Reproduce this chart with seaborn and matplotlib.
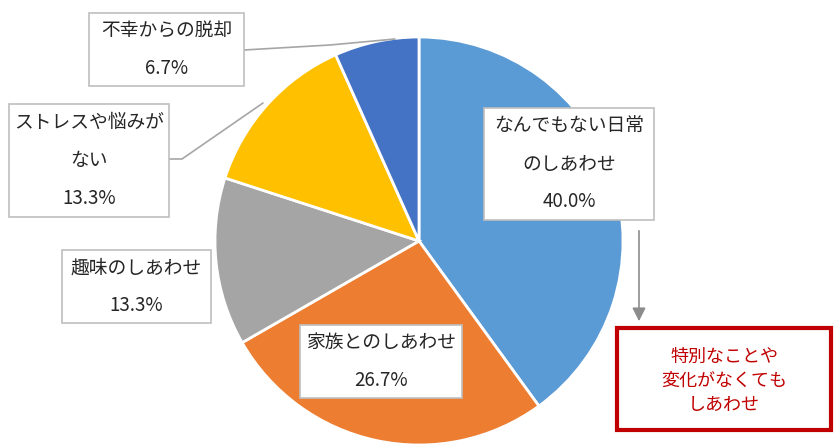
import matplotlib
matplotlib.use("Agg")
import matplotlib.pyplot as plt
import seaborn as sns
from matplotlib.patches import FancyArrowPatch

categories = ["なんでもない日常\nのしあわせ", "家族とのしあわせ", "趣味のしあわせ",
              "ストレスや悩みが\nない", "不幸からの脱却"]
shares = [40.0, 26.7, 13.3, 13.3, 6.7]
slice_colors = ["#5B9BD5", "#ED7D31", "#A5A5A5", "#FFC000", "#4472C4"]
note_text = "特別なことや\n変化がなくても\nしあわせ"

sns.set_theme(style="white")
plt.rcParams["font.family"] = ["Noto Sans CJK JP", "DejaVu Sans"]

W, H = 840, 448
fig = plt.figure(figsize=(8.4, 4.48), dpi=100)
ax = fig.add_axes([0, 0, 1, 1])

palette = sns.color_palette(slice_colors)
ax.pie(shares, colors=palette, startangle=90, counterclock=False,
       center=(419, H - 241), radius=204,
       wedgeprops=dict(edgecolor="white", linewidth=2))
ax.set_xlim(0, W)
ax.set_ylim(0, H)
ax.set_aspect("equal")
ax.axis("off")


def py(y):
    return H - y


line_kw = dict(color="#A6A6A6", lw=1.2, zorder=3)
# leader lines
ax.plot([244, 330, 395], [py(50), py(45), py(39)], **line_kw)
ax.plot([169, 182, 263], [py(159), py(159), py(103)], **line_kw)

box_kw = dict(facecolor="white", edgecolor="#BFBFBF", linewidth=1.2)
# (x0, y0, x1, y1) of each label box in pixel coordinates
boxes = [(484, 108, 654, 220), (300, 325, 462, 398), (62, 250, 211, 323),
         (9, 104, 169, 217), (89, 13, 244, 86)]

for name, val, (x0, y0, x1, y1) in zip(categories, shares, boxes):
    ax.add_patch(plt.Rectangle((x0, py(y1)), x1 - x0, y1 - y0, zorder=4, **box_kw))
    ax.text((x0 + x1) / 2, py((y0 + y1) / 2), f"{name}\n{val:.1f}%",
            ha="center", va="center", fontsize=13.5, linespacing=2.05,
            color="#262626", zorder=5)

# arrow to the note
arrow = FancyArrowPatch((639, py(228)), (639, py(324)), arrowstyle="-|>",
                        mutation_scale=20, color="#8C8C8C", lw=1.2, zorder=3)
ax.add_patch(arrow)

ax.add_patch(plt.Rectangle((617, py(430)), 831 - 617, 430 - 328,
                           facecolor="white", edgecolor="#C00000",
                           linewidth=3, zorder=4))
ax.text(724, py(381), note_text, ha="center", va="center", fontsize=13,
        color="#C00000", linespacing=1.45, zorder=5)

fig.savefig("out.png", dpi=100)
